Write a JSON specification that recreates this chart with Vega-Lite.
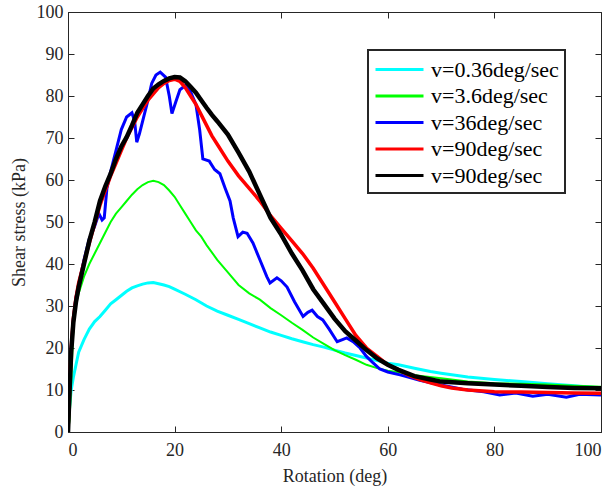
{
  "$schema": "https://vega.github.io/schema/vega-lite/v6.json",
  "width": 533,
  "height": 420,
  "autosize": {"type": "none"},
  "padding": {"left": 68, "top": 12, "right": 15, "bottom": 59},
  "background": "white",
  "config": {
    "view": {"stroke": "#262626", "strokeWidth": 1},
    "font": "'Liberation Serif', 'Times New Roman', Tinos, 'DejaVu Serif', serif",
    "axis": {
      "labelFont": "'Liberation Serif', 'Times New Roman', Tinos, 'DejaVu Serif', serif",
      "titleFont": "'Liberation Serif', 'Times New Roman', Tinos, 'DejaVu Serif', serif",
      "labelFontSize": 18,
      "titleFontSize": 18,
      "titleFontWeight": "normal",
      "labelColor": "#262626",
      "titleColor": "#262626",
      "domainColor": "#262626",
      "tickColor": "#262626",
      "grid": false,
      "tickSize": -6
    },
    "legend": {
      "labelFont": "'Liberation Serif', 'Times New Roman', Tinos, 'DejaVu Serif', serif",
      "strokeWidth": 2
    }
  },
  "datasets": {
    "d": [
      {"s":"a","x":0,"y":0},{"s":"a","x":0.3,"y":6},{"s":"a","x":0.6,"y":10},{"s":"a","x":1,"y":13},{"s":"a","x":1.5,"y":16},{"s":"a","x":2,"y":19},{"s":"a","x":3,"y":22},{"s":"a","x":4,"y":24.5},{"s":"a","x":5,"y":26.3},{"s":"a","x":6,"y":27.5},{"s":"a","x":7,"y":29},{"s":"a","x":8,"y":30.5},{"s":"a","x":9,"y":31.5},{"s":"a","x":10,"y":32.5},{"s":"a","x":11,"y":33.5},{"s":"a","x":12,"y":34.3},{"s":"a","x":13,"y":34.8},{"s":"a","x":14,"y":35.2},{"s":"a","x":15,"y":35.5},{"s":"a","x":16,"y":35.6},{"s":"a","x":17,"y":35.3},{"s":"a","x":18,"y":35},{"s":"a","x":19,"y":34.6},{"s":"a","x":20,"y":34},{"s":"a","x":22,"y":32.8},{"s":"a","x":24,"y":31.5},{"s":"a","x":26,"y":30},{"s":"a","x":28,"y":28.8},{"s":"a","x":30,"y":27.8},{"s":"a","x":32,"y":26.8},{"s":"a","x":34,"y":25.8},{"s":"a","x":36,"y":24.8},{"s":"a","x":38,"y":23.8},{"s":"a","x":40,"y":23},{"s":"a","x":42,"y":22.2},{"s":"a","x":44,"y":21.5},{"s":"a","x":46,"y":20.8},{"s":"a","x":48,"y":20.2},{"s":"a","x":50,"y":19.5},{"s":"a","x":52,"y":18.8},{"s":"a","x":54,"y":18.2},{"s":"a","x":56,"y":17.6},{"s":"a","x":58,"y":17},{"s":"a","x":60,"y":16.4},{"s":"a","x":62,"y":16},{"s":"a","x":65,"y":15.2},{"s":"a","x":68,"y":14.4},{"s":"a","x":70,"y":14},{"s":"a","x":75,"y":13.1},{"s":"a","x":80,"y":12.5},{"s":"a","x":85,"y":12},{"s":"a","x":90,"y":11.5},{"s":"a","x":95,"y":11},{"s":"a","x":100,"y":10.5},
      {"s":"b","x":0,"y":0},{"s":"b","x":0.3,"y":3},{"s":"b","x":0.6,"y":12},{"s":"b","x":0.9,"y":22},{"s":"b","x":1.2,"y":28},{"s":"b","x":1.6,"y":31},{"s":"b","x":2,"y":33},{"s":"b","x":3,"y":37},{"s":"b","x":4,"y":40},{"s":"b","x":5,"y":42.5},{"s":"b","x":6,"y":45},{"s":"b","x":7,"y":47.5},{"s":"b","x":8,"y":50},{"s":"b","x":9,"y":52},{"s":"b","x":10,"y":53.5},{"s":"b","x":11,"y":55},{"s":"b","x":12,"y":56.5},{"s":"b","x":13,"y":57.8},{"s":"b","x":14,"y":58.8},{"s":"b","x":15,"y":59.5},{"s":"b","x":16,"y":59.8},{"s":"b","x":17,"y":59.5},{"s":"b","x":18,"y":58.8},{"s":"b","x":19,"y":57.5},{"s":"b","x":20,"y":56},{"s":"b","x":21,"y":54},{"s":"b","x":22,"y":52},{"s":"b","x":23,"y":50},{"s":"b","x":24,"y":48},{"s":"b","x":25,"y":46.5},{"s":"b","x":26,"y":44.5},{"s":"b","x":28,"y":41},{"s":"b","x":30,"y":38},{"s":"b","x":32,"y":35},{"s":"b","x":34,"y":33},{"s":"b","x":36,"y":31.5},{"s":"b","x":38,"y":29.5},{"s":"b","x":40,"y":27.8},{"s":"b","x":42,"y":26},{"s":"b","x":44,"y":24.3},{"s":"b","x":46,"y":22.5},{"s":"b","x":48,"y":21},{"s":"b","x":50,"y":19.5},{"s":"b","x":52,"y":18.3},{"s":"b","x":54,"y":17.2},{"s":"b","x":56,"y":16},{"s":"b","x":58,"y":15.2},{"s":"b","x":60,"y":14.6},{"s":"b","x":62,"y":14.2},{"s":"b","x":65,"y":13.5},{"s":"b","x":70,"y":12.8},{"s":"b","x":75,"y":12},{"s":"b","x":80,"y":11.6},{"s":"b","x":85,"y":11.5},{"s":"b","x":90,"y":11.3},{"s":"b","x":95,"y":11},{"s":"b","x":100,"y":10.8},
      {"s":"c","x":0,"y":0},{"s":"c","x":0.3,"y":10},{"s":"c","x":0.6,"y":20},{"s":"c","x":1,"y":27},{"s":"c","x":1.5,"y":32},{"s":"c","x":2,"y":35},{"s":"c","x":3,"y":41},{"s":"c","x":4,"y":46},{"s":"c","x":5,"y":49},{"s":"c","x":5.8,"y":52},{"s":"c","x":6.4,"y":50.5},{"s":"c","x":6.8,"y":51},{"s":"c","x":7.3,"y":58},{"s":"c","x":8,"y":62},{"s":"c","x":9,"y":67},{"s":"c","x":10,"y":72},{"s":"c","x":11,"y":75},{"s":"c","x":12,"y":76},{"s":"c","x":12.5,"y":74},{"s":"c","x":12.9,"y":69},{"s":"c","x":13.4,"y":71},{"s":"c","x":14.1,"y":74.5},{"s":"c","x":15,"y":79},{"s":"c","x":15.7,"y":83},{"s":"c","x":16.5,"y":85},{"s":"c","x":17.3,"y":85.7},{"s":"c","x":18.3,"y":84.5},{"s":"c","x":19,"y":80},{"s":"c","x":19.5,"y":75.8},{"s":"c","x":20.2,"y":78.5},{"s":"c","x":21,"y":81.5},{"s":"c","x":22,"y":82.5},{"s":"c","x":23,"y":81},{"s":"c","x":24,"y":78},{"s":"c","x":24.7,"y":72},{"s":"c","x":25.3,"y":65},{"s":"c","x":26.5,"y":64.5},{"s":"c","x":27.5,"y":62.5},{"s":"c","x":28.5,"y":61.5},{"s":"c","x":29.5,"y":58},{"s":"c","x":30.4,"y":55},{"s":"c","x":31,"y":51},{"s":"c","x":31.9,"y":46.5},{"s":"c","x":32.8,"y":47.6},{"s":"c","x":33.6,"y":47.3},{"s":"c","x":34.7,"y":45},{"s":"c","x":36,"y":41},{"s":"c","x":37.3,"y":37},{"s":"c","x":37.9,"y":35.5},{"s":"c","x":39.2,"y":36.7},{"s":"c","x":40,"y":36},{"s":"c","x":41.1,"y":34.5},{"s":"c","x":42.5,"y":31},{"s":"c","x":44.1,"y":27.5},{"s":"c","x":45,"y":28.5},{"s":"c","x":45.8,"y":29},{"s":"c","x":46.8,"y":27.5},{"s":"c","x":47.8,"y":26.7},{"s":"c","x":49,"y":24.5},{"s":"c","x":50.5,"y":21.5},{"s":"c","x":51.5,"y":22},{"s":"c","x":52.3,"y":22.4},{"s":"c","x":53.5,"y":21.5},{"s":"c","x":54.8,"y":20},{"s":"c","x":56,"y":18},{"s":"c","x":57.2,"y":16.5},{"s":"c","x":58.5,"y":15},{"s":"c","x":60,"y":14.3},{"s":"c","x":62.3,"y":13.6},{"s":"c","x":64,"y":13},{"s":"c","x":66,"y":12.3},{"s":"c","x":70,"y":11.2},{"s":"c","x":74,"y":10.2},{"s":"c","x":78,"y":9.6},{"s":"c","x":81,"y":8.8},{"s":"c","x":84,"y":9.3},{"s":"c","x":87.2,"y":8.5},{"s":"c","x":90,"y":9},{"s":"c","x":93.5,"y":8.3},{"s":"c","x":96,"y":9},{"s":"c","x":100,"y":8.8},
      {"s":"d","x":0,"y":0},{"s":"d","x":0.3,"y":10},{"s":"d","x":0.6,"y":20},{"s":"d","x":1,"y":27},{"s":"d","x":1.5,"y":32},{"s":"d","x":2,"y":35.5},{"s":"d","x":3,"y":40.5},{"s":"d","x":4,"y":45},{"s":"d","x":5,"y":49.5},{"s":"d","x":6,"y":54},{"s":"d","x":7,"y":57.5},{"s":"d","x":8,"y":61},{"s":"d","x":9,"y":64},{"s":"d","x":10,"y":67},{"s":"d","x":11,"y":70},{"s":"d","x":12,"y":72.5},{"s":"d","x":13,"y":75},{"s":"d","x":14,"y":77},{"s":"d","x":15,"y":79},{"s":"d","x":16,"y":80.5},{"s":"d","x":17,"y":82},{"s":"d","x":18,"y":83},{"s":"d","x":19,"y":83.7},{"s":"d","x":20,"y":84},{"s":"d","x":21,"y":83.5},{"s":"d","x":22,"y":82},{"s":"d","x":23,"y":80},{"s":"d","x":24,"y":78},{"s":"d","x":25,"y":75.5},{"s":"d","x":26,"y":73},{"s":"d","x":27,"y":70.5},{"s":"d","x":28,"y":68.5},{"s":"d","x":30,"y":64.5},{"s":"d","x":32,"y":61},{"s":"d","x":34,"y":58},{"s":"d","x":36,"y":55},{"s":"d","x":38,"y":51.5},{"s":"d","x":40,"y":48.5},{"s":"d","x":42,"y":45.5},{"s":"d","x":44,"y":42.5},{"s":"d","x":46,"y":39},{"s":"d","x":48,"y":35},{"s":"d","x":50,"y":31},{"s":"d","x":52,"y":27},{"s":"d","x":54,"y":23},{"s":"d","x":56,"y":20},{"s":"d","x":58,"y":18},{"s":"d","x":60,"y":16},{"s":"d","x":62,"y":14.8},{"s":"d","x":64,"y":13.5},{"s":"d","x":66,"y":12.5},{"s":"d","x":68,"y":11.7},{"s":"d","x":70,"y":11},{"s":"d","x":72,"y":10.5},{"s":"d","x":75,"y":10},{"s":"d","x":80,"y":9.6},{"s":"d","x":85,"y":9.5},{"s":"d","x":90,"y":9.4},{"s":"d","x":95,"y":9.3},{"s":"d","x":100,"y":9.2},
      {"s":"e","x":0,"y":0},{"s":"e","x":0.3,"y":10},{"s":"e","x":0.6,"y":19},{"s":"e","x":1,"y":26},{"s":"e","x":1.5,"y":31},{"s":"e","x":2,"y":34.5},{"s":"e","x":3,"y":40},{"s":"e","x":4,"y":45.5},{"s":"e","x":5,"y":50},{"s":"e","x":6,"y":55},{"s":"e","x":7,"y":58.5},{"s":"e","x":8,"y":61.5},{"s":"e","x":9,"y":65},{"s":"e","x":10,"y":68},{"s":"e","x":11,"y":70.2},{"s":"e","x":12,"y":73},{"s":"e","x":13,"y":76},{"s":"e","x":14,"y":78},{"s":"e","x":15,"y":80},{"s":"e","x":16,"y":81.8},{"s":"e","x":17,"y":82.8},{"s":"e","x":18,"y":83.6},{"s":"e","x":19,"y":84.2},{"s":"e","x":20,"y":84.5},{"s":"e","x":21,"y":84.4},{"s":"e","x":22,"y":83.5},{"s":"e","x":23,"y":82.2},{"s":"e","x":24,"y":80.8},{"s":"e","x":25,"y":79},{"s":"e","x":26,"y":77.2},{"s":"e","x":27,"y":75.5},{"s":"e","x":28,"y":74},{"s":"e","x":30,"y":70.8},{"s":"e","x":32,"y":66.5},{"s":"e","x":34,"y":62},{"s":"e","x":36,"y":56.5},{"s":"e","x":38,"y":51},{"s":"e","x":40,"y":47},{"s":"e","x":42,"y":42.5},{"s":"e","x":44,"y":38.5},{"s":"e","x":46,"y":34},{"s":"e","x":48,"y":30.5},{"s":"e","x":50,"y":27},{"s":"e","x":52,"y":24},{"s":"e","x":54,"y":21.8},{"s":"e","x":56,"y":19.5},{"s":"e","x":58,"y":17.5},{"s":"e","x":60,"y":16},{"s":"e","x":62,"y":14.8},{"s":"e","x":65,"y":13.3},{"s":"e","x":68,"y":12.5},{"s":"e","x":70,"y":12},{"s":"e","x":75,"y":11.6},{"s":"e","x":80,"y":11.3},{"s":"e","x":85,"y":11},{"s":"e","x":90,"y":10.7},{"s":"e","x":95,"y":10.5},{"s":"e","x":100,"y":10.4}
    ]
  },
  "data": {"name": "d"},
  "layer": [
    {
      "transform": [{"filter": "datum.s == 'a'"}],
      "mark": {"type": "line", "clip": true, "strokeWidth": 3},
      "encoding": {
        "x": {"field": "x", "type": "quantitative", "scale": {"domain": [0, 100], "nice": false},
              "axis": {"orient": "bottom", "values": [0, 20, 40, 60, 80, 100], "title": "Rotation (deg)", "labelPadding": 15, "titlePadding": 8}},
        "y": {"field": "y", "type": "quantitative", "scale": {"domain": [0, 100], "nice": false},
              "axis": {"orient": "left", "values": [0,10,20,30,40,50,60,70,80,90,100], "title": "Shear stress (kPa)", "labelPadding": 11, "titlePadding": 8}},
        "color": {"field": "s", "type": "nominal",
                  "scale": {"domain": ["a","b","c","d","e"], "range": ["#00FFFF","#00FF00","#0000FF","#FF0000","#000000"]},
                  "legend": {"title": null, "orient": "none", "legendX": 300, "legendY": 38,
                             "labelExpr": "{'a':'v=0.36deg/sec','b':'v=3.6deg/sec','c':'v=36deg/sec','d':'v=90deg/sec','e':'v=90deg/sec'}[datum.value]",
                             "symbolType": "M-1,0H3", "symbolSize": 576, "symbolStrokeWidth": 3,
                             "labelFontSize": 22, "labelColor": "#000000", "labelOffset": 30,
                             "rowPadding": 1.5, "padding": 6,
                             "strokeColor": "#262626", "fillColor": "white"}},
        "order": {"field": "x", "type": "quantitative"}
      }
    },
    {
      "transform": [{"filter": "datum.s == 'b'"}],
      "mark": {"type": "line", "clip": true, "strokeWidth": 2},
      "encoding": {
        "x": {"field": "x", "type": "quantitative", "scale": {"domain": [0, 100], "nice": false}, "axis": null},
        "y": {"field": "y", "type": "quantitative", "scale": {"domain": [0, 100], "nice": false}, "axis": null},
        "color": {"field": "s", "type": "nominal"},
        "order": {"field": "x", "type": "quantitative"}
      }
    },
    {
      "transform": [{"filter": "datum.s == 'c'"}],
      "mark": {"type": "line", "clip": true, "strokeWidth": 3},
      "encoding": {
        "x": {"field": "x", "type": "quantitative", "scale": {"domain": [0, 100], "nice": false}, "axis": null},
        "y": {"field": "y", "type": "quantitative", "scale": {"domain": [0, 100], "nice": false}, "axis": null},
        "color": {"field": "s", "type": "nominal"},
        "order": {"field": "x", "type": "quantitative"}
      }
    },
    {
      "transform": [{"filter": "datum.s == 'd'"}],
      "mark": {"type": "line", "clip": true, "strokeWidth": 3.5},
      "encoding": {
        "x": {"field": "x", "type": "quantitative", "scale": {"domain": [0, 100], "nice": false}, "axis": null},
        "y": {"field": "y", "type": "quantitative", "scale": {"domain": [0, 100], "nice": false}, "axis": null},
        "color": {"field": "s", "type": "nominal"},
        "order": {"field": "x", "type": "quantitative"}
      }
    },
    {
      "transform": [{"filter": "datum.s == 'e'"}],
      "mark": {"type": "line", "clip": true, "strokeWidth": 4.5},
      "encoding": {
        "x": {"field": "x", "type": "quantitative", "scale": {"domain": [0, 100], "nice": false}, "axis": null},
        "y": {"field": "y", "type": "quantitative", "scale": {"domain": [0, 100], "nice": false}, "axis": null},
        "color": {"field": "s", "type": "nominal"},
        "order": {"field": "x", "type": "quantitative"}
      }
    },
    {
      "mark": {"type": "point", "opacity": 0},
      "encoding": {
        "x": {"field": "x", "type": "quantitative", "scale": {"domain": [0, 100], "nice": false},
              "axis": {"orient": "top", "values": [0, 20, 40, 60, 80, 100], "labels": false, "title": null, "domain": false}},
        "y": {"field": "y", "type": "quantitative", "scale": {"domain": [0, 100], "nice": false},
              "axis": {"orient": "right", "values": [0,10,20,30,40,50,60,70,80,90,100], "labels": false, "title": null, "domain": false}}
      }
    }
  ],
  "resolve": {"scale": {"x": "independent", "y": "independent"}, "axis": {"x": "independent", "y": "independent"}}
}
